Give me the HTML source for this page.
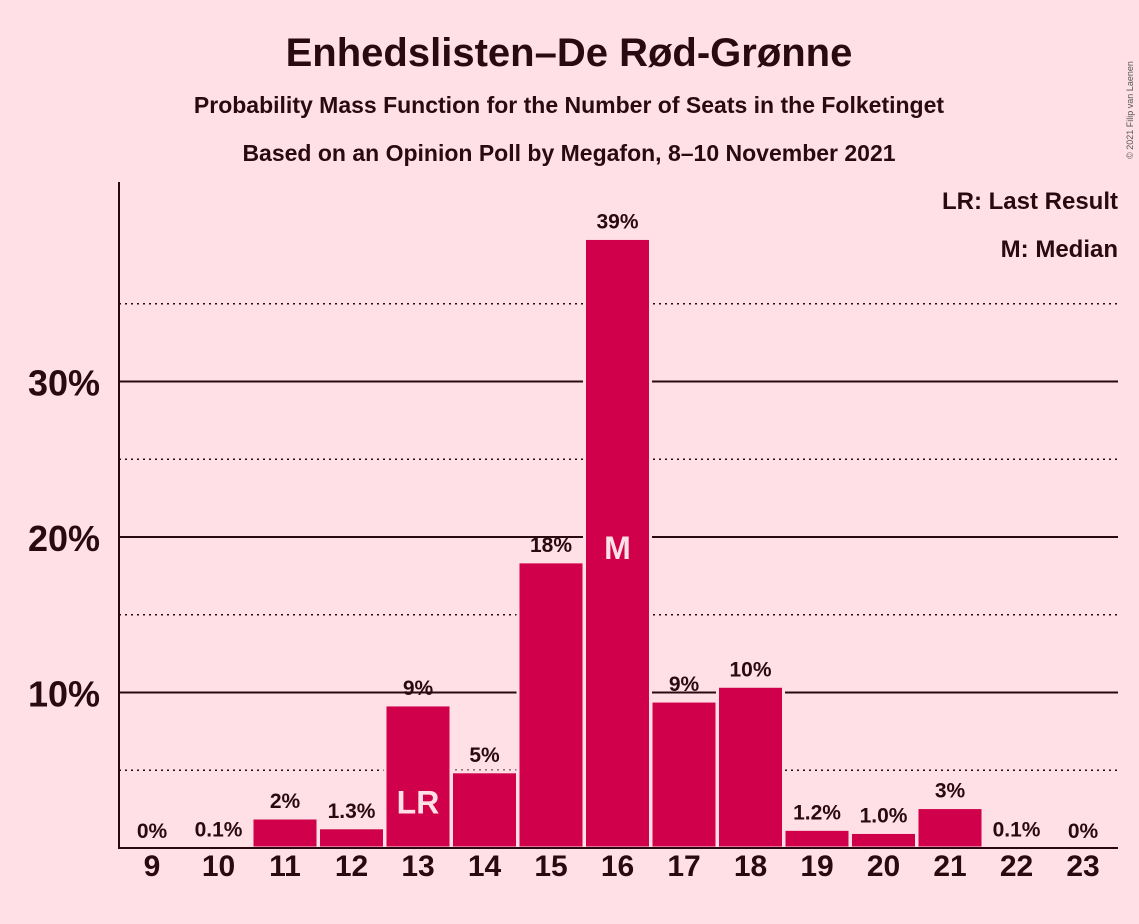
<!DOCTYPE html>
<html><head><meta charset="utf-8"><style>
body{margin:0;background:#ffe0e6;}
svg{display:block;font-family:"Liberation Sans",sans-serif;font-weight:bold;}
</style></head><body>
<svg id="c" width="1139" height="924">
<rect width="1139" height="924" fill="#ffe0e6"/>
<text x="569" y="66" text-anchor="middle" font-size="40" fill="#2a0a12">Enhedslisten–De Rød-Grønne</text>
<text x="569" y="113" text-anchor="middle" font-size="23" fill="#2a0a12">Probability Mass Function for the Number of Seats in the Folketinget</text>
<text x="569" y="161" text-anchor="middle" font-size="23" fill="#2a0a12">Based on an Opinion Poll by Megafon, 8–10 November 2021</text>
<text x="1118" y="209" text-anchor="end" font-size="24" fill="#2a0a12">LR: Last Result</text>
<text x="1118" y="257" text-anchor="end" font-size="24" fill="#2a0a12">M: Median</text>
<text x="1133" y="110" font-size="9" font-weight="normal" fill="#555" transform="rotate(-90 1133 110)" text-anchor="middle">© 2021 Filip van Laenen</text>
<g id="grid"></g><g id="bars"></g><g id="axes"></g>
</svg>
<script>
const seats=[9,10,11,12,13,14,15,16,17,18,19,20,21,22,23];
const probs=[0,0.1,1.93,1.3,9.2,4.9,18.4,39.2,9.45,10.4,1.2,1.0,2.6,0.1,0];
const labels=["0%","0.1%","2%","1.3%","9%","5%","18%","39%","9%","10%","1.2%","1.0%","3%","0.1%","0%"];
const yTicks=[10,20,30];
const yDotted=[5,15,25,35];
const lastResult=13, median=16;
const NS="http://www.w3.org/2000/svg";
const y=v=>848-v*15.55;
const x=s=>152+(s-9)*66.5;
function mk(t,a,p){const e=document.createElementNS(NS,t);for(const k in a)e.setAttribute(k,a[k]);p.appendChild(e);return e;}
const g=document.getElementById('grid'),b=document.getElementById('bars'),ax=document.getElementById('axes');
yDotted.forEach(v=>{const l=mk('line',{x1:119,x2:1118,y1:y(v),y2:y(v),stroke:'#2a0a12','stroke-width':1.5,'stroke-dasharray':'2,4'},g);

});
yTicks.forEach(v=>{const l=mk('line',{x1:119,x2:1118,y1:y(v),y2:y(v),stroke:'#2a0a12','stroke-width':2},g);


const t=mk('text',{x:100,y:y(v)+14,'text-anchor':'end','font-size':36,fill:'#2a0a12'},ax);t.textContent=v+'%';

});
seats.forEach((s,i)=>{const p=probs[i];
if(p>0){const r=mk('rect',{x:x(s)-33,y:y(p),width:66,height:848-y(p),fill:'#d0004a',stroke:'#ffe0e6','stroke-width':3},b);

}
const t=mk('text',{x:x(s),y:y(p)-10,'text-anchor':'middle','font-size':21,fill:'#2a0a12'},b);t.textContent=labels[i];


const xt=mk('text',{x:x(s),y:876,'text-anchor':'middle','font-size':30,fill:'#2a0a12'},ax);xt.textContent=s;


if(s===lastResult||s===median){const m=mk('text',{x:x(s),y:(s===median?y(20)+22:y(3)+12),'text-anchor':'middle','font-size':32,fill:'#ffe0e6'},b);m.textContent=s===median?'M':'LR';

}
});
const a1=mk('line',{x1:119,x2:119,y1:182,y2:849,stroke:'#2a0a12','stroke-width':2},ax);


const a2=mk('line',{x1:118,x2:1118,y1:848,y2:848,stroke:'#2a0a12','stroke-width':2},ax);


</script>
</body></html>
